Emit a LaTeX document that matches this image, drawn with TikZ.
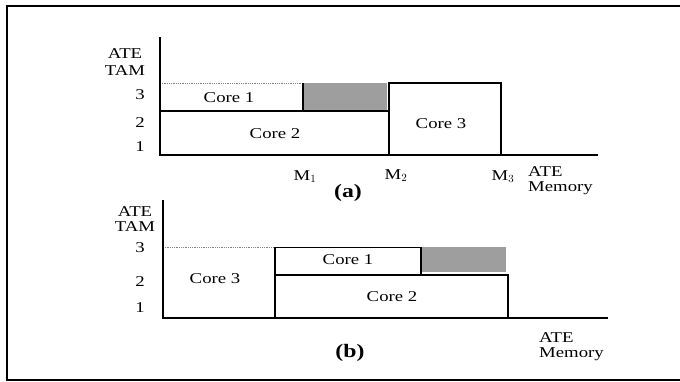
\documentclass[tikz,border=0pt]{standalone}
\usepackage{fontspec}
\setmainfont[FakeStretch=1.25]{Liberation Serif}
\begin{document}
\begin{tikzpicture}[x=1pt,y=-1pt,
  lbl/.style={font=\fontsize{15}{15}\selectfont, inner sep=0pt},
  stack/.style={font=\fontsize{15}{#1}\selectfont, inner sep=0pt, align=center},
  lstack/.style={font=\fontsize{15}{#1}\selectfont, inner sep=0pt, align=left, anchor=north west},
  caption/.style={font=\fontsize{19}{19}\selectfont\bfseries, inner sep=0pt},
  axis/.style={line width=1.6pt},
  edge/.style={line width=1.3pt},
  dotline/.style={line width=0.8pt, gray, densely dotted},
  shade/.style={fill=black!38}]
\useasboundingbox (0,0) rectangle (680,381);
% frame
\draw[line width=1.6pt] (680,6) -- (7,6) -- (7,380) -- (680,380);

% ---------- (a) ----------
\fill[shade] (303,83) rectangle (387,111);
\draw[dotline] (160,83) -- (303,83);
\draw[edge] (303,83) -- (303,111);
\draw[edge] (160,111) -- (389,111);
\draw[edge] (389,155) -- (389,83) -- (501,83) -- (501,155);
\draw[axis] (160,37) -- (160,155) -- (598,155);
\node[stack=17] (atam) at (125,62) {ATE\\TAM};
\node[lbl] (a3) at (140,95) {3};
\node[lbl] (a2) at (140,123) {2};
\node[lbl] (a1) at (140,147) {1};
\node[lbl] (ac1) at (229,98) {Core 1};
\node[lbl] (ac2) at (275,134) {Core 2};
\node[lbl] (ac3) at (441,124) {Core 3};
\node[lbl] (m1) at (305,177) {M$_1$};
\node[lbl] (m2) at (396,176) {M$_2$};
\node[lbl] (m3) at (503,177) {M$_3$};
\node[lstack=15] (amem) at (528,166) {ATE\\Memory};
\node[caption] (capa) at (348,193) {(a)};

% ---------- (b) ----------
\fill[shade] (421,247) rectangle (506,272);
\draw[dotline] (163,247) -- (275,247);
\draw[line width=0.8pt] (275,247) -- (421,247);
\draw[edge] (275,247) -- (275,318);
\draw[edge] (421,247) -- (421,275);
\draw[edge] (275,275) -- (508,275) -- (508,318);
\draw[axis] (163,200) -- (163,318) -- (608,318);
\node[stack=14.5] (btam) at (135,219) {ATE\\TAM};
\node[lbl] (b3) at (140,248) {3};
\node[lbl] (b2) at (140,282) {2};
\node[lbl] (b1) at (140,308) {1};
\node[lbl] (bc3) at (215,279) {Core 3};
\node[lbl] (bc1) at (348,260) {Core 1};
\node[lbl] (bc2) at (392,297) {Core 2};
\node[lstack=15] (bmem) at (539,332) {ATE\\Memory};
\node[caption] (capb) at (350,353) {(b)};
\end{tikzpicture}
\end{document}
